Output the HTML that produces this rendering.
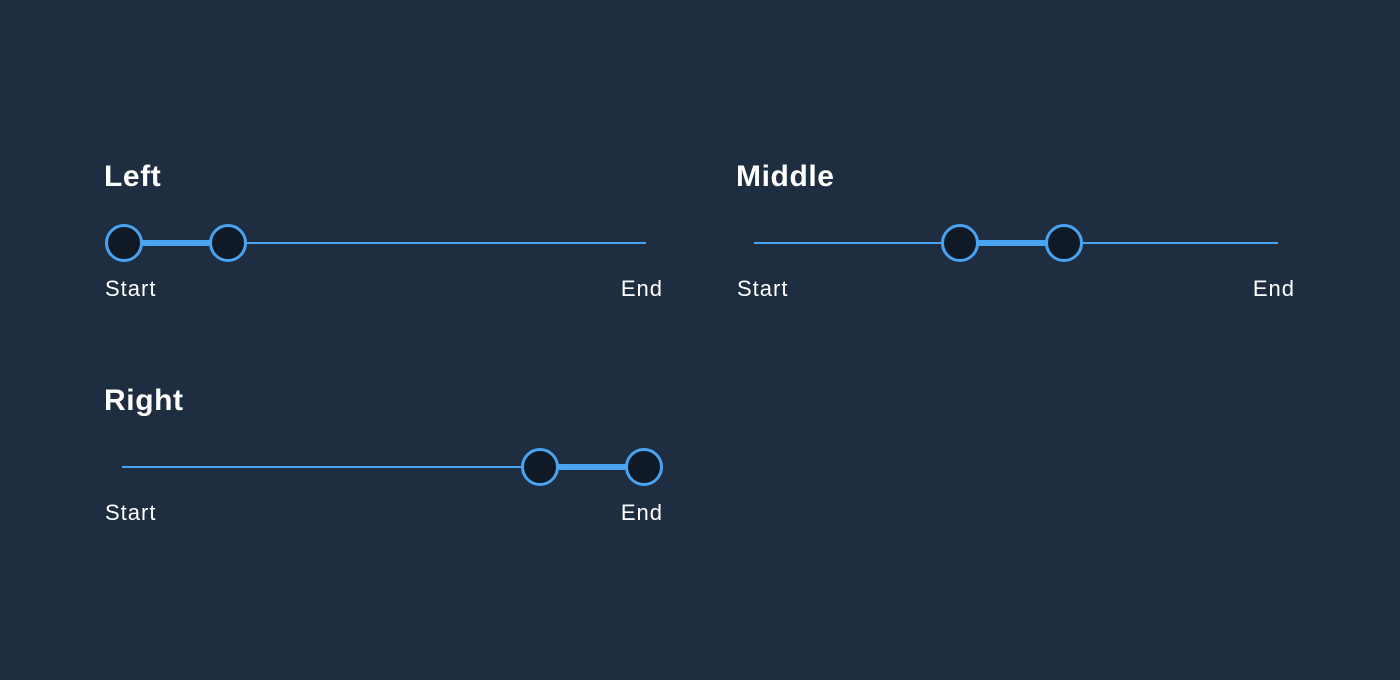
<!DOCTYPE html>
<html><head><meta charset="utf-8"><style>
html,body{margin:0;padding:0;background:#1e2d3f;}
svg{display:block}
text{font-family:"Liberation Sans",sans-serif;fill:#fff}
.t{font-size:30px;font-weight:bold;letter-spacing:0.6px}
.l{font-size:22px;letter-spacing:1px}
</style></head><body>
<svg width="1400" height="680" viewBox="0 0 1400 680">
<rect width="1400" height="680" fill="#1e2d3f"/>
<g stroke="#4aa3f0" fill="#0f1a26">
<line x1="122" y1="243" x2="646" y2="243" stroke-width="2"/>
<line x1="124" y1="243" x2="228" y2="243" stroke-width="6"/>
<circle cx="124" cy="243" r="17.5" stroke-width="3"/>
<circle cx="228" cy="243" r="17.5" stroke-width="3"/>
<line x1="754" y1="243" x2="1278" y2="243" stroke-width="2"/>
<line x1="960" y1="243" x2="1064" y2="243" stroke-width="6"/>
<circle cx="960" cy="243" r="17.5" stroke-width="3"/>
<circle cx="1064" cy="243" r="17.5" stroke-width="3"/>
<line x1="122" y1="467" x2="646" y2="467" stroke-width="2"/>
<line x1="540" y1="467" x2="644" y2="467" stroke-width="6"/>
<circle cx="540" cy="467" r="17.5" stroke-width="3"/>
<circle cx="644" cy="467" r="17.5" stroke-width="3"/>
</g>
<text class="t" x="104" y="186">Left</text>
<text class="l" x="105" y="296">Start</text>
<text class="l" x="663" y="296" text-anchor="end">End</text>
<text class="t" x="736" y="186">Middle</text>
<text class="l" x="737" y="296">Start</text>
<text class="l" x="1295" y="296" text-anchor="end">End</text>
<text class="t" x="104" y="410">Right</text>
<text class="l" x="105" y="520">Start</text>
<text class="l" x="663" y="520" text-anchor="end">End</text>
</svg>
</body></html>
